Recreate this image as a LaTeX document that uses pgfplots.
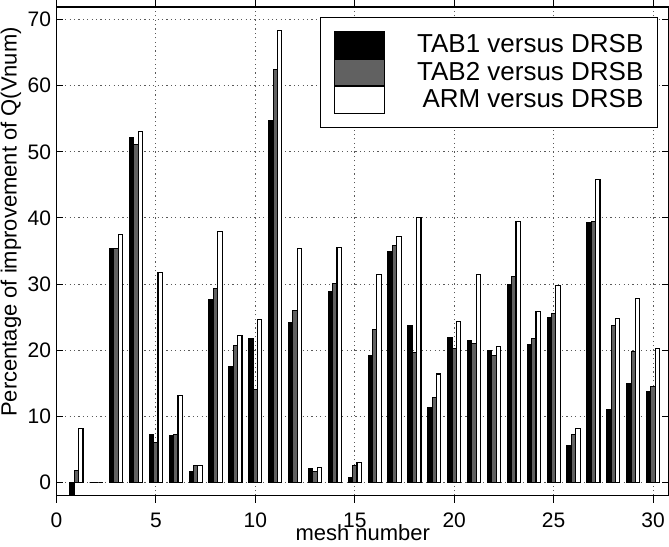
\documentclass[border=0pt]{standalone}
\usepackage{fontspec}
\setmainfont{Liberation Sans}
\usepackage{pgfplots}
\pgfplotsset{compat=1.18}
\usepackage{pgfplotstable}

\pgfplotstableread{
x t1 t2 arm
1 -3 1.8 8.1
2 0 0 0
3 35.4 35.4 37.5
4 52.1 51.1 53.1
5 7.2 6.1 31.8
6 7.1 7.3 13.1
7 1.7 2.6 2.6
8 27.6 29.3 38.0
9 17.5 20.7 22.2
10 21.8 14.1 24.6
11 54.8 62.4 68.4
12 24.2 26.0 35.4
13 2.1 1.7 2.2
14 28.9 30.1 35.5
15 0.8 2.6 3.0
16 19.2 23.1 31.4
17 34.9 35.8 37.2
18 23.7 19.7 40.1
19 11.3 12.8 16.4
20 21.9 20.3 24.3
21 21.5 21.0 31.4
22 20.0 19.2 20.5
23 30.0 31.1 39.5
24 20.9 21.7 25.8
25 25.0 25.6 29.8
26 5.6 7.3 8.1
27 39.3 39.5 45.8
28 11.0 23.8 24.8
29 14.9 19.8 27.8
30 13.8 14.5 20.3
}\data

\pgfplotsset{myleg/.style={legend image code/.code={\draw[##1, line width=0.5pt] (0pt,-6.625pt) rectangle (25pt,6.625pt);}}}

\begin{document}
\begin{tikzpicture}
\begin{axis}[
  name=ax,
  scale only axis, width=306.5pt, height=244.5pt,
  xmin=0, xmax=30.8, ymin=-2, ymax=71.9,
  xtick={0,5,...,30}, ytick={0,10,...,70},
  grid=major,
  major grid style={black!65, line width=0.5pt, dash pattern=on 0.6pt off 1.6pt},
  tick align=inside, major tick length=3.5pt,
  axis line style={line width=0.6pt},
  every tick/.style={black, line width=0.5pt},
  ybar, bar width=0.22,
  /pgf/number format/assume math mode=true,
  tick label style={font=\fontsize{10.5}{12}\selectfont},
  yticklabel style={inner sep=0pt, xshift=-2.5pt},
  xticklabel style={inner sep=0pt, anchor=base, yshift=-12.3pt},
  xlabel={mesh number},
  ylabel={Percentage of improvement of Q(Vnum)},
  xlabel style={font=\fontsize{11}{13}\selectfont, at={(axis description cs:0.5,-0.0925)}, anchor=base, inner sep=0pt},
  ylabel style={font=\fontsize{11}{13}\selectfont, at={(axis description cs:-0.057,0.56)}, anchor=south, inner sep=0pt},
  legend style={at={(axis description cs:0.982,0.980)}, anchor=north east,
    inner xsep=7pt, inner ysep=7pt, nodes={inner sep=0pt}, column sep=16pt, row sep=0pt,
    cells={anchor=east}, font=\fontsize{13}{15}\selectfont, draw=black, line width=0.6pt},
]
\addplot[fill=black, draw=black, line width=0.5pt, bar shift=-0.22, myleg] table[x=x,y=t1]{\data};
\addplot[fill=black!62, draw=black, line width=0.5pt, bar shift=0, myleg] table[x=x,y=t2]{\data};
\addplot[fill=white, draw=black, line width=0.6pt, bar shift=0.22, myleg] table[x=x,y=arm]{\data};
\legend{TAB1 versus DRSB, TAB2 versus DRSB, ARM versus DRSB}
\end{axis}
\pgfresetboundingbox
\path[use as bounding box] ([xshift=-28.25pt,yshift=-25.5pt]ax.south west) rectangle ([yshift=3.5pt]ax.north east);
\end{tikzpicture}
\end{document}
